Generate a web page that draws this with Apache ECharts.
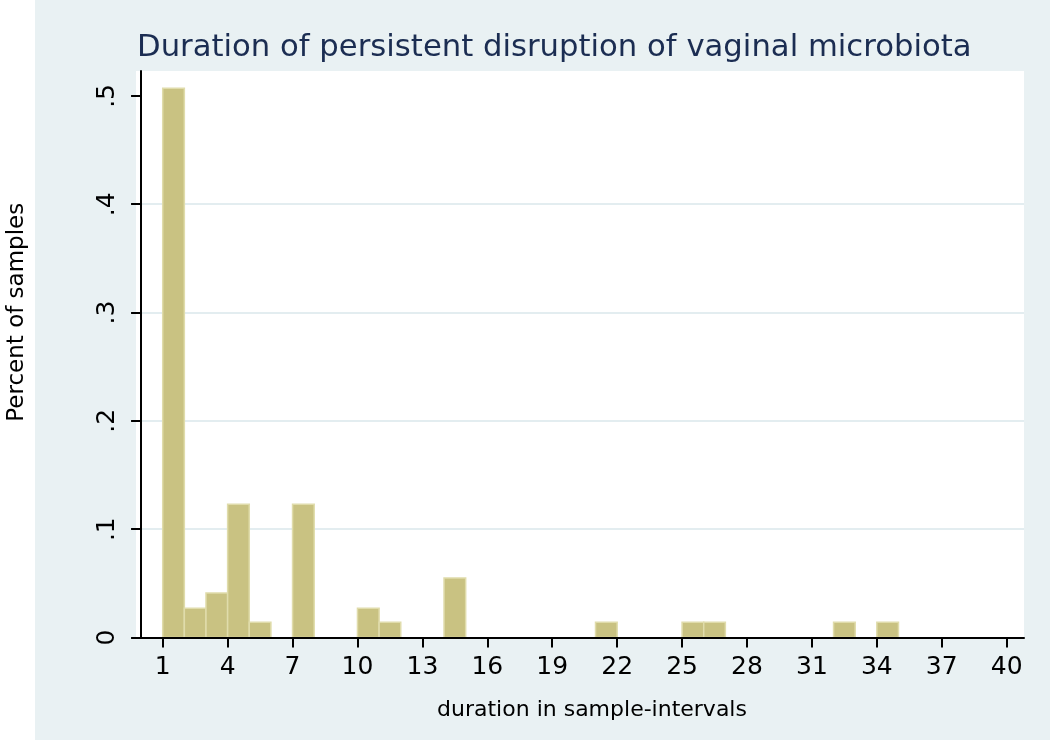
<!DOCTYPE html>
<html>
<head>
<meta charset="utf-8">
<style>
  html, body { margin: 0; padding: 0; background: #ffffff; }
  #chart { width: 1050px; height: 740px; }
</style>
<script src="https://cdn.jsdelivr.net/npm/echarts@6/dist/echarts.min.js"></script>
</head>
<body>
<div id="chart"></div>
<script>
// ---- data ----
const titleText = 'Duration of persistent disruption of vaginal microbiota';
const xAxisTitle = 'duration in sample-intervals';
const yAxisTitle = 'Percent of samples';
// histogram bins: each bin starts at binStart and is one interval wide
const binStart = [1, 2, 3, 4, 5, 7, 10, 11, 14, 21, 25, 26, 32, 34];
const binWidth = 1;
const binValue = [0.507, 0.027, 0.041, 0.123, 0.014, 0.123, 0.027, 0.014, 0.055, 0.014, 0.014, 0.014, 0.014, 0.014];
const xTicks = [1, 4, 7, 10, 13, 16, 19, 22, 25, 28, 31, 34, 37, 40];
const yTicks = [0, 0.1, 0.2, 0.3, 0.4, 0.5];

const histData = binStart.map((s, i) => [s, s + binWidth, binValue[i]]);

const FONT = 'DejaVu Sans';
const chart = echarts.init(document.getElementById('chart'), null, { renderer: 'canvas' });

chart.setOption({
  backgroundColor: '#e9f1f3',
  animation: false,
  textStyle: { fontFamily: FONT },
  graphic: [
    { type: 'rect', left: 0, top: 0, shape: { width: 35, height: 740 }, style: { fill: '#ffffff' }, z: -10 }
  ],
  title: {
    text: titleText,
    left: 132,
    top: 28,
    textStyle: { fontFamily: FONT, fontSize: 30.7, fontWeight: 'normal', color: '#1b2d52' }
  },
  grid: {
    left: 136, right: 26, top: 71, bottom: 102.5,
    containLabel: false,
    outerBoundsMode: 'none',
    show: true, backgroundColor: '#ffffff', borderWidth: 0
  },
  xAxis: {
    type: 'value',
    min: -0.234,
    max: 40.8,
    z: 5,
    name: xAxisTitle,
    nameLocation: 'middle',
    nameGap: 62,
    nameTextStyle: { fontFamily: FONT, fontSize: 22, color: '#000000', padding: [0, 0, 0, 24] },
    axisLine: { show: true, onZero: false, lineStyle: { color: '#000000', width: 2 } },
    axisTick: { show: true, customValues: xTicks, length: 10, lineStyle: { color: '#000000', width: 2 } },
    axisLabel: { customValues: xTicks, margin: 17, fontFamily: FONT, fontSize: 25, color: '#000000' },
    splitLine: { show: false }
  },
  yAxis: {
    type: 'value',
    min: 0,
    max: 0.523,
    interval: 0.1,
    z: 0,
    name: yAxisTitle,
    nameLocation: 'middle',
    nameRotate: 90,
    nameGap: 107,
    nameTextStyle: { fontFamily: FONT, fontSize: 23, color: '#000000', padding: [0, 0, 0, 84] },
    axisLine: { show: true, lineStyle: { color: '#000000', width: 2 } },
    axisTick: { show: true, customValues: yTicks, length: 10, lineStyle: { color: '#000000', width: 2 } },
    axisLabel: {
      customValues: yTicks,
      rotate: 90,
      margin: 16,
      fontFamily: FONT, fontSize: 25, color: '#000000',
      formatter: v => v === 0 ? '0' : '.' + Math.round(v * 10)
    },
    splitLine: { show: true, showMinLine: false, showMaxLine: false, lineStyle: { color: '#e3edf0', width: 2 } }
  },
  series: [{
    type: 'custom',
    z: 2,
    data: histData,
    encode: { x: [0, 1], y: 2 },
    renderItem: function (params, api) {
      const p0 = api.coord([api.value(0), 0]);
      const p1 = api.coord([api.value(1), api.value(2)]);
      return {
        type: 'rect',
        shape: { x: p0[0], y: p1[1], width: p1[0] - p0[0], height: p0[1] - p1[1] },
        style: { fill: '#c9c282', stroke: '#e0dcab', lineWidth: 1.5 }
      };
    }
  }]
});
</script>
</body>
</html>
